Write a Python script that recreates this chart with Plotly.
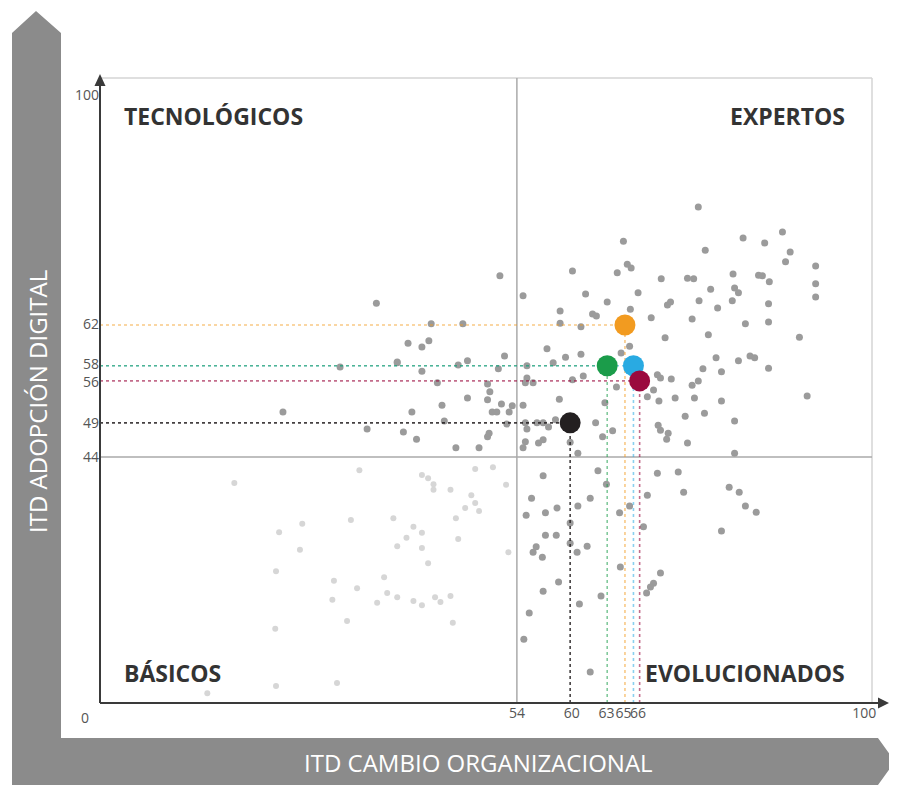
import plotly.graph_objects as go

# ---------------- data ----------------
# medium-gray companies
mid_x = [35.8, 31.1, 38.5, 51.8, 61.2, 54.8, 62.9, 59.6, 59.6, 63.8, 64.3, 62.3, 42.9, 47.0, 39.9,
         41.7, 42.6, 38.5, 41.7, 46.4, 47.6, 51.6, 52.4, 57.9, 60.3, 62.3, 58.7, 55.3, 55.3, 62.6,
         61.2, 43.7, 50.2, 56.1, 55.1, 77.5, 67.8, 83.3, 86.1, 88.4, 78.4, 89.4, 88.8, 68.3, 68.8,
         67.0, 72.7, 76.1, 76.9, 82.0, 85.3, 85.8, 86.7, 92.7, 92.7, 92.7, 69.7, 79.1, 82.2, 82.7,
         81.9, 77.6, 80.0, 86.6, 73.5, 73.9, 65.7, 68.7, 71.4, 76.7, 83.6, 86.6, 78.8, 73.2, 90.6,
         68.6, 67.5, 79.8, 82.7, 84.2, 84.8, 86.6, 78.1, 80.5, 74.0, 72.2, 72.6, 77.5, 76.7, 91.6,
         72.4, 74.5, 77.0, 80.5, 78.3, 75.8, 82.2, 64.2, 72.3, 72.6, 73.6, 73.4, 76.1, 65.1, 66.4,
         65.4, 66.9, 70.9, 71.7, 82.2, 64.5, 72.2, 74.9, 75.6, 65.6, 70.9, 68.6, 67.3, 81.5, 82.8,
         83.6, 85.0, 80.5, 70.4, 63.5, 67.4, 64.9, 72.6, 71.7, 71.3, 70.8, 63.5, 40.4, 44.3, 47.6,
         50.2, 50.5, 52.0, 53.4, 53.0, 50.8, 51.4, 54.8, 59.5, 39.3, 41.0, 44.6, 46.1, 49.1, 50.2,
         50.4, 52.7, 55.1, 55.3, 56.6, 57.4, 58.1, 59.0, 55.1, 54.8, 56.8, 57.4, 60.9, 61.9, 23.7,
         34.6, 57.4, 55.9, 57.7, 59.2, 55.2, 61.9, 60.9, 57.7, 59.1, 60.9, 63.1, 56.5, 56.1, 57.3,
         61.8, 59.4, 57.4, 55.6, 54.9, 62.1]
mid_y = [65.8, 55.3, 56.1, 70.3, 71.1, 67.0, 67.3, 64.5, 62.5, 64.0, 63.7, 61.9, 62.4, 62.4, 59.2,
         58.6, 59.6, 56.0, 54.6, 55.6, 56.3, 55.0, 57.1, 58.3, 56.9, 57.4, 56.0, 55.5, 53.5, 53.8,
         53.2, 52.7, 52.5, 52.7, 52.7, 81.6, 76.0, 76.5, 75.7, 77.5, 74.5, 74.2, 72.6, 72.2, 71.6,
         70.8, 69.8, 69.9, 69.8, 70.6, 70.4, 70.3, 69.3, 71.9, 69.0, 66.8, 67.5, 68.1, 68.3, 67.5,
         66.2, 66.2, 65.0, 65.7, 65.5, 66.0, 66.0, 64.8, 63.4, 63.2, 62.4, 62.7, 60.6, 60.1, 60.2,
         58.7, 57.6, 56.8, 56.3, 57.1, 56.8, 55.1, 55.0, 54.5, 53.3, 54.0, 53.5, 53.0, 52.3, 50.5,
         49.7, 50.2, 50.2, 49.7, 47.7, 47.2, 46.4, 46.1, 45.7, 44.9, 44.4, 43.4, 42.8, 43.8, 44.8,
         49.4, 52.0, 50.4, 51.5, 41.1, 38.2, 37.8, 38.0, 34.7, 36.0, 34.2, 32.4, 31.3, 35.5, 34.7,
         32.4, 31.4, 28.3, 29.0, 33.7, 22.4, 17.6, 21.4, 19.7, 19.1, 18.1, 5.1, 47.9, 49.0, 50.2,
         49.9, 51.2, 49.2, 48.9, 47.9, 47.9, 47.9, 49.0, 50.0, 44.6, 43.4, 46.4, 42.0, 42.0, 43.8,
         44.4, 45.9, 46.1, 45.1, 46.1, 46.1, 45.4, 46.6, 43.0, 42.0, 42.8, 43.3, 42.9, 41.1, 47.9,
         45.1, 37.4, 33.7, 31.3, 32.1, 30.9, 32.4, 29.6, 27.6, 27.6, 26.3, 25.8, 25.7, 24.8, 24.0,
         24.8, 19.9, 18.4, 14.8, 10.5, 16.3]

# light-gray companies (lower-left area)
light_x = [48.6, 50.9, 41.7, 42.5, 43.2, 43.2, 45.4, 52.6, 48.1, 47.3, 48.6, 49.1, 38.0, 46.1, 40.6,
           41.7, 39.7, 46.4, 38.5, 41.7, 52.9, 33.6, 17.4, 23.2, 26.2, 25.9, 32.5, 22.8, 30.3, 33.3,
           36.8, 37.2, 38.5, 30.1, 35.9, 32.0, 22.7, 22.8, 30.7, 13.9, 42.5, 40.6, 41.7, 43.4, 44.1,
           45.4, 45.7]
light_y = [38.5, 38.8, 37.5, 37.0, 36.0, 35.1, 35.1, 35.9, 34.2, 32.1, 32.9, 31.6, 30.4, 30.4, 29.0,
           28.0, 27.2, 27.0, 25.8, 25.5, 24.8, 38.3, 36.2, 28.1, 29.5, 25.2, 30.1, 21.7, 20.1, 18.9,
           20.7, 18.1, 17.4, 17.0, 16.5, 13.5, 12.2, 2.8, 3.3, 1.6, 23.0, 16.8, 16.1, 17.4, 16.6,
           17.6, 13.2]

# highlighted companies
hl_x = [60.9, 65.7, 68.0, 69.1, 69.9]
hl_y = [46.1, 55.5, 62.2, 55.5, 53.0]
hl_colors = ["#231f20", "#1b9c4a", "#f29b20", "#29aae2", "#9b0a3e"]
hl_line_colors = ["rgba(35,31,32,0.85)", "rgba(27,156,74,0.55)", "rgba(242,155,32,0.55)",
                  "rgba(41,170,226,0.55)", "rgba(155,10,62,0.6)"]

# quadrant thresholds (position on the drawn axes)
split_x = 54.0
split_y = 40.5

x_tick_vals = [54.0, 61.1, 65.6, 67.8, 69.7, 99.0]
x_tick_text = ["54", "60", "63", "65", "66", "100"]
y_tick_vals = [40.5, 46.1, 52.8, 55.8, 62.3, 100.0]
y_tick_text = ["44", "49", "56", "58", "62", "100"]

quadrants = ["TECNOLÓGICOS", "EXPERTOS", "BÁSICOS", "EVOLUCIONADOS"]

# ---------------- figure ----------------
OFF = 8                      # page margin of the html body
W, H = 897 - OFF, 785 - OFF
L, T = 100 - OFF, 71 - OFF
R, B = W - (887 - OFF), H - (703 - OFF)
PW, PH = W - L - R, H - T - B


def px(xp, yp):
    """page pixel -> paper coordinate"""
    return (xp - OFF - L) / PW, (H - B - (yp - OFF)) / PH


fig = go.Figure()

fig.add_trace(go.Scatter(x=light_x, y=light_y, mode="markers",
                         marker=dict(size=6, color="#d6d6d6"), hoverinfo="skip"))
fig.add_trace(go.Scatter(x=mid_x, y=mid_y, mode="markers",
                         marker=dict(size=7, color="#9b9b9b"), hoverinfo="skip"))

order = [4, 3, 2, 1, 0]
for i in order:
    xv, yv, lc = hl_x[i], hl_y[i], hl_line_colors[i]
    fig.add_trace(go.Scatter(x=[0, xv], y=[yv, yv], mode="lines",
                             line=dict(color=lc, width=1.6, dash="dot"), hoverinfo="skip"))
    fig.add_trace(go.Scatter(x=[xv, xv], y=[0, yv], mode="lines",
                             line=dict(color=lc, width=1.6, dash="dot"), hoverinfo="skip"))

fig.add_trace(go.Scatter(x=hl_x, y=hl_y, mode="markers",
                         marker=dict(size=21, color=hl_colors, line=dict(width=0))))

shapes = []
pts = [(12, 785), (12, 33), (36, 11), (61, 33), (61, 738), (878, 738), (895, 761.5), (878, 785)]
path = "M " + " L ".join(f"{px(a, b)[0]:.5f},{px(a, b)[1]:.5f}" for a, b in pts) + " Z"
shapes.append(dict(type="path", xref="paper", yref="paper", path=path,
                   fillcolor="#8b8b8b", line=dict(width=0), layer="below"))
fx0, fy0 = px(100, 703)
fx1, fy1 = px(872, 78)
shapes.append(dict(type="line", xref="paper", yref="paper", x0=fx0, y0=fy1, x1=fx1, y1=fy1,
                   line=dict(color="#d4d4d4", width=1.5), layer="below"))
shapes.append(dict(type="line", xref="paper", yref="paper", x0=fx1, y0=fy0, x1=fx1, y1=fy1,
                   line=dict(color="#d4d4d4", width=1.5), layer="below"))
shapes.append(dict(type="line", xref="x", yref="paper", x0=split_x, x1=split_x, y0=0, y1=fy1,
                   line=dict(color="#aaaaaa", width=1.5), layer="below"))
shapes.append(dict(type="line", xref="paper", yref="y", x0=0, x1=fx1, y0=split_y, y1=split_y,
                   line=dict(color="#aaaaaa", width=1.5), layer="below"))
ax_col = "#3a3a3a"
shapes.append(dict(type="line", xref="paper", yref="paper", x0=0, y0=0,
                   x1=px(880, 0)[0], y1=0, line=dict(color=ax_col, width=2)))
shapes.append(dict(type="line", xref="paper", yref="paper", x0=0, y0=0,
                   x1=0, y1=px(0, 82)[1], line=dict(color=ax_col, width=2)))
tri_x = [(889, 703), (878, 697.5), (878, 708.5)]
tri_y = [(100, 74), (94.5, 86), (105.5, 86)]
for tri in (tri_x, tri_y):
    p = "M " + " L ".join(f"{px(a, b)[0]:.5f},{px(a, b)[1]:.5f}" for a, b in tri) + " Z"
    shapes.append(dict(type="path", xref="paper", yref="paper", path=p,
                       fillcolor=ax_col, line=dict(width=0)))

annotations = []
qfont = dict(family="Open Sans", size=23, color="#333333")
q_pos = [(122, 116, "left"), (847, 116, "right"), (122, 673, "left"), (847, 673, "right")]
for txt, (xa, ya, anc) in zip(quadrants, q_pos):
    xp, yp = px(xa, ya)
    annotations.append(dict(text=f"<b>{txt}</b>", x=xp, y=yp, xref="paper", yref="paper",
                            xanchor=anc, yanchor="middle", showarrow=False, font=qfont))
tfont = dict(family="Open Sans", size=24, color="#ffffff")
xp, yp = px(478, 762)
annotations.append(dict(text="ITD CAMBIO ORGANIZACIONAL", x=xp, y=yp, xref="paper", yref="paper",
                        xanchor="center", yanchor="middle", showarrow=False, font=tfont))
xp, yp = px(37, 402)
annotations.append(dict(text="ITD ADOPCIÓN DIGITAL", x=xp, y=yp, xref="paper", yref="paper",
                        xanchor="center", yanchor="middle", showarrow=False, font=tfont,
                        textangle=-90))
xp, yp = px(85, 718)
annotations.append(dict(text="0", x=xp, y=yp, xref="paper", yref="paper",
                        xanchor="center", yanchor="middle", showarrow=False,
                        font=dict(family="Open Sans", size=14, color="#555555")))

tick_font = dict(family="Open Sans", size=14, color="#555555")
fig.update_layout(
    width=W, height=H, margin=dict(l=L, r=R, t=T, b=B, autoexpand=False),
    paper_bgcolor="white", plot_bgcolor="white", showlegend=False,
    shapes=shapes, annotations=annotations,
    xaxis=dict(range=[0, PW / ((872 - 100) / 100)], showgrid=False, zeroline=False,
               showline=False, tickvals=x_tick_vals, ticktext=x_tick_text, ticks="",
               tickangle=0, tickfont=tick_font, fixedrange=True),
    yaxis=dict(range=[0, 104], showgrid=False, zeroline=False, showline=False,
               tickvals=y_tick_vals, ticktext=y_tick_text, ticks="",
               tickfont=tick_font, fixedrange=True),
)

fig.write_html("out.html")
